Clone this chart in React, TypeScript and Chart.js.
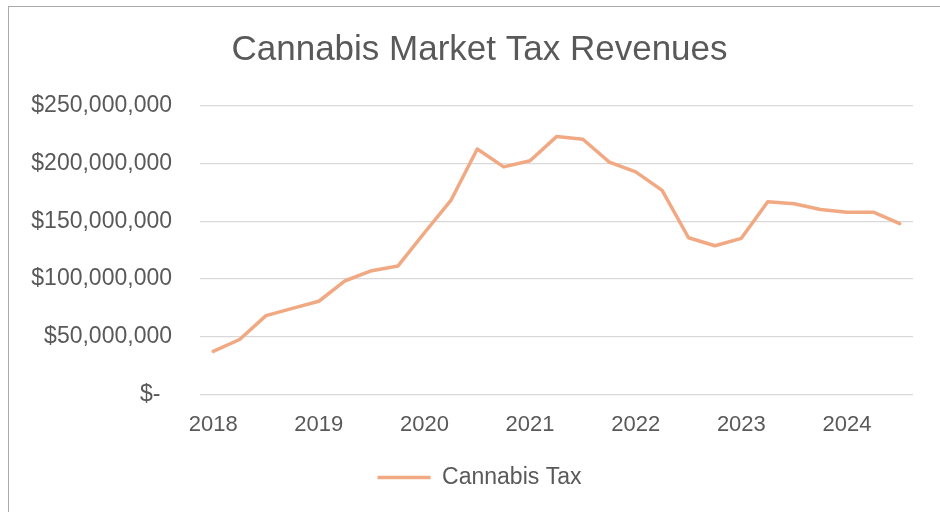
import React, { useEffect, useRef } from "react";
import { Chart, registerables } from "chart.js";

Chart.register(...registerables);

const quarters = [
  "2018 Q1", "2018 Q2", "2018 Q3", "2018 Q4",
  "2019 Q1", "2019 Q2", "2019 Q3", "2019 Q4",
  "2020 Q1", "2020 Q2", "2020 Q3", "2020 Q4",
  "2021 Q1", "2021 Q2", "2021 Q3", "2021 Q4",
  "2022 Q1", "2022 Q2", "2022 Q3", "2022 Q4",
  "2023 Q1", "2023 Q2", "2023 Q3", "2023 Q4",
  "2024 Q1", "2024 Q2", "2024 Q3",
];

const cannabisTax = [
  37700000, 47900000, 68500000, 74800000,
  80900000, 98600000, 107300000, 111400000,
  140000000, 167900000, 212300000, 196900000,
  202100000, 223000000, 220700000, 201000000,
  192600000, 176600000, 135700000, 128800000,
  135200000, 166800000, 165100000, 160100000,
  157800000, 157800000, 147900000,
];

const seriesName = "Cannabis Tax";
const chartTitle = "Cannabis Market Tax Revenues";
const yMin = 0;
const yMax = 250000000;
const yStep = 50000000;

const FONT = "'Liberation Sans', Arial, sans-serif";
const TEXT = "#595959";

export default function App() {
  const ref = useRef<HTMLCanvasElement | null>(null);

  useEffect(() => {
    if (!ref.current) return;
    const chart = new Chart(ref.current, {
      type: "line",
      data: {
        labels: quarters,
        datasets: [
          {
            label: seriesName,
            data: cannabisTax,
            borderColor: "#F1A983",
            backgroundColor: "#F1A983",
            borderWidth: 3.5,
            pointRadius: 0,
            pointHoverRadius: 0,
            tension: 0,
            borderCapStyle: "round",
            borderJoinStyle: "round",
            fill: false,
            yAxisID: "y",
          },
        ],
      },
      options: {
        animation: false,
        responsive: false,
        devicePixelRatio: 1,
        layout: { padding: { left: 19, right: 0, top: 0, bottom: 13 } },
        plugins: {
          title: {
            display: true,
            text: chartTitle,
            color: TEXT,
            font: { family: FONT, size: 35, weight: "normal" },
            padding: { top: 29.5, bottom: 33.8 },
          },
          legend: {
            display: true,
            position: "bottom",
            labels: {
              color: TEXT,
              font: { family: FONT, size: 23 },
              usePointStyle: true,
              pointStyle: "line",
              pointStyleWidth: 53,
              padding: 10,
            },
          },
          tooltip: { enabled: false },
        },
        scales: {
          x: {
            offset: true,
            grid: { display: false, drawTicks: false },
            border: { display: false },
            ticks: {
              color: TEXT,
              font: { family: FONT, size: 22 },
              autoSkip: false,
              maxRotation: 0,
              padding: 17,
              callback: (_v: any, i: number) =>
                i % 4 === 0 ? quarters[i].slice(0, 4) : "",
            },
            afterFit: (s: any) => {
              s.height = 61;
            },
          },
          y: {
            min: yMin,
            max: yMax,
            grid: { color: "#D9D9D9", lineWidth: 1.3, drawTicks: false },
            border: { display: false },
            ticks: {
              stepSize: yStep,
              color: TEXT,
              font: { family: FONT, size: 23 },
              padding: 28,
              callback: (v: any) =>
                Number(v) === 0
                  ? "$-\u2002"
                  : "$" + Number(v).toLocaleString("en-US"),
            },
            afterFit: (s: any) => {
              s.width = 181;
            },
          },
          yRightSpacer: {
            position: "right",
            display: true,
            grid: { display: false, drawTicks: false },
            border: { display: false },
            ticks: { display: false },
            afterFit: (s: any) => {
              s.width = 27;
            },
          },
        },
      },
    });
    return () => chart.destroy();
  }, []);

  return (
    <div
      style={{
        position: "fixed",
        left: 0,
        top: 0,
        width: 940,
        height: 512,
        overflow: "hidden",
        background: "#ffffff",
      }}
    >
      <div
        style={{
          position: "absolute",
          left: 8,
          top: 5.5,
          width: 1000,
          height: 600,
          border: "1.6px solid #ABABAB",
          boxSizing: "border-box",
        }}
      />
      <canvas
        ref={ref}
        width={940}
        height={512}
        style={{ position: "absolute", left: 0, top: 0, width: 940, height: 512 }}
      />
    </div>
  );
}
